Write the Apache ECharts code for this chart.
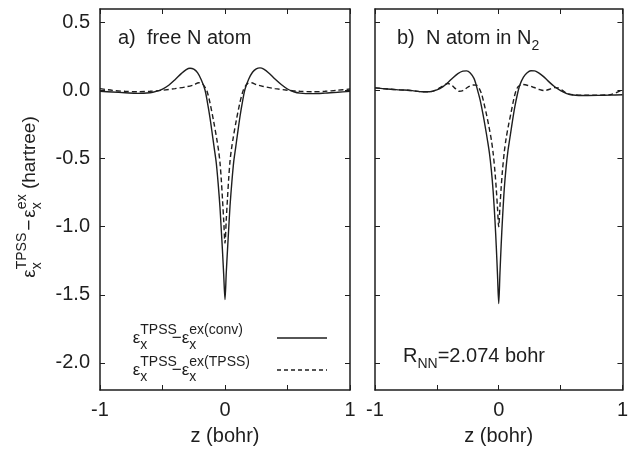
<!DOCTYPE html>
<html><head><meta charset="utf-8">
<script src="https://cdn.jsdelivr.net/npm/echarts@6/dist/echarts.min.js"></script>
<style>html,body{margin:0;padding:0;background:#fff}#c{width:631px;height:451px}</style>
</head><body><div id="c"></div>
<script>
const FONT = '"Liberation Sans", Arial, Helvetica, sans-serif';
const INK = '#1e1e1e';

// axis ticks: z in bohr, energy density difference in hartree
const xTicks = [-1, -0.5, 0, 0.5, 1];
const xLabels = [-1, 0, 1];
const yTicks = [0.5, 0, -0.5, -1, -1.5, -2];

// a) free N atom: TPSS minus conventional exact exchange
const zFreeConv = [-1.0,-0.9,-0.8,-0.7,-0.6,-0.55,-0.5,-0.45,-0.4,-0.35,-0.31,-0.28,-0.25,-0.22,-0.19,-0.16,-0.14,-0.12,-0.10,-0.085,-0.07,-0.055,-0.04,-0.03,-0.02,-0.01,0,
  0.01,0.02,0.03,0.04,0.055,0.07,0.085,0.10,0.12,0.14,0.16,0.19,0.22,0.25,0.28,0.31,0.35,0.40,0.45,0.50,0.55,0.60,0.70,0.80,0.90,1.0];
const eFreeConv = [-0.005,-0.010,-0.015,-0.020,-0.015,-0.005,0.012,0.040,0.080,0.125,0.155,0.165,0.158,0.132,0.080,0.005,-0.090,-0.200,-0.330,-0.430,-0.530,-0.680,-0.860,-1.020,-1.180,-1.360,-1.535,
  -1.340,-1.170,-1.010,-0.850,-0.670,-0.520,-0.420,-0.320,-0.190,-0.080,0.010,0.085,0.135,0.160,0.167,0.158,0.130,0.085,0.045,0.012,-0.008,-0.018,-0.022,-0.018,-0.012,-0.005];

// a) free N atom: TPSS minus exact exchange in the TPSS gauge
const zFreeTpss = [-1.0,-0.9,-0.8,-0.7,-0.6,-0.5,-0.4,-0.3,-0.25,-0.21,-0.18,-0.16,-0.145,-0.12,-0.09,-0.065,-0.05,-0.04,-0.03,-0.02,-0.01,0,
  0.01,0.02,0.03,0.04,0.05,0.065,0.09,0.12,0.145,0.16,0.18,0.21,0.25,0.3,0.4,0.5,0.6,0.7,0.8,0.9,1.0];
const eFreeTpss = [0.015,0.002,-0.005,-0.008,-0.005,0.003,0.015,0.030,0.042,0.058,0.050,0.025,0.000,-0.090,-0.230,-0.360,-0.450,-0.530,-0.650,-0.800,-0.960,-1.120,
  -0.950,-0.790,-0.640,-0.520,-0.440,-0.350,-0.220,-0.085,0.000,0.028,0.052,0.058,0.045,0.032,0.015,0.003,-0.005,-0.008,-0.005,0.003,0.012];

// b) N atom in N2: conventional gauge
const zMolConv = [-1.0,-0.9,-0.8,-0.7,-0.62,-0.56,-0.5,-0.45,-0.41,-0.37,-0.33,-0.29,-0.26,-0.23,-0.20,-0.185,-0.17,-0.15,-0.13,-0.11,-0.09,-0.075,-0.06,-0.045,-0.03,-0.02,-0.01,0,
  0.01,0.02,0.03,0.045,0.06,0.075,0.09,0.11,0.13,0.15,0.17,0.20,0.23,0.26,0.29,0.32,0.36,0.40,0.45,0.50,0.55,0.60,0.70,0.80,0.90,1.0];
const eMolConv = [0.020,0.012,0.006,0.000,-0.008,-0.008,0.006,0.030,0.060,0.095,0.125,0.143,0.145,0.130,0.090,0.050,0.000,-0.070,-0.160,-0.260,-0.370,-0.460,-0.580,-0.740,-0.960,-1.140,-1.350,-1.565,
  -1.340,-1.130,-0.950,-0.720,-0.560,-0.440,-0.350,-0.230,-0.120,-0.030,0.040,0.100,0.132,0.146,0.145,0.132,0.105,0.070,0.030,0.000,-0.022,-0.032,-0.036,-0.035,-0.033,-0.030];

// b) N atom in N2: TPSS gauge
const zMolTpss = [-1.0,-0.9,-0.8,-0.7,-0.62,-0.56,-0.5,-0.45,-0.41,-0.38,-0.35,-0.32,-0.29,-0.25,-0.21,-0.18,-0.16,-0.14,-0.12,-0.10,-0.08,-0.06,-0.045,-0.03,-0.02,-0.01,0,
  0.01,0.02,0.03,0.045,0.06,0.08,0.10,0.12,0.14,0.16,0.19,0.23,0.28,0.33,0.37,0.41,0.45,0.48,0.51,0.55,0.60,0.70,0.80,0.90,0.95,1.0];
const eMolTpss = [0.020,0.012,0.006,0.000,-0.008,-0.008,0.008,0.035,0.052,0.040,0.015,-0.005,0.000,0.025,0.042,0.040,0.020,-0.020,-0.090,-0.170,-0.260,-0.360,-0.460,-0.600,-0.720,-0.860,-1.000,
  -0.850,-0.710,-0.590,-0.450,-0.350,-0.250,-0.160,-0.070,0.000,0.032,0.045,0.040,0.025,0.008,0.000,0.010,0.022,0.020,0.005,-0.020,-0.030,-0.034,-0.033,-0.030,-0.015,0.008];

const pairs = (z, e) => z.map((v, i) => [v, e[i]]);

// ---- text helpers (stacked sub/superscripts) ----
const mctx = document.createElement('canvas').getContext('2d');
function textWidth(s, size) { mctx.font = size + 'px ' + FONT; return mctx.measureText(s).width; }
function txt(s, x, y, size) {
  return { type: 'text', x: x, y: y, silent: true,
    style: { text: s, font: size + 'px ' + FONT, fill: INK,
      textAlign: 'left', textVerticalAlign: 'middle', align: 'left', verticalAlign: 'middle' } };
}
// tokens: string = run at main size, number = extra horizontal space,
// object = stacked sub/superscript attached to the previous glyph
function mathText(tokens, o) {
  const kids = []; let cx = 0;
  tokens.forEach(tk => {
    if (typeof tk === 'number') { cx += tk; return; }
    if (typeof tk === 'string') {
      kids.push(txt(tk, cx, 0, o.size));
      cx += textWidth(tk, o.size);
      return;
    }
    let w = 0;
    if (tk.sub) { kids.push(txt(tk.sub, cx, o.subDy, o.small)); w = Math.max(w, textWidth(tk.sub, o.small)); }
    if (tk.sup) { kids.push(txt(tk.sup, cx, o.supDy, o.small)); w = Math.max(w, textWidth(tk.sup, o.small)); }
    cx += w;
  });
  return { kids: kids, width: cx };
}
function group(x, y, m, opts) {
  opts = opts || {};
  const off = opts.center ? -m.width / 2 : 0;
  return { type: 'group', x: x, y: y, rotation: opts.rotation || 0,
    children: m.kids.map(k => Object.assign({}, k, { x: k.x + off })) };
}

// ---- axes ----
const axisLineStyle = { color: INK, width: 1.5 };
function xAxis(gridIndex, position, labelled) {
  return {
    type: 'value', gridIndex: gridIndex, position: position, min: -1, max: 1,
    axisLine: { show: true, onZero: false, lineStyle: axisLineStyle },
    axisTick: { show: true, inside: true, length: 5, customValues: xTicks, lineStyle: { color: INK, width: 1 } },
    axisLabel: { show: labelled, customValues: xLabels, margin: 10, fontSize: 20, fontFamily: FONT, color: INK,
      formatter: v => String(v) },
    splitLine: { show: false },
    name: labelled ? 'z (bohr)' : '', nameLocation: 'middle', nameGap: 36,
    nameTextStyle: { fontSize: 20, fontFamily: FONT, color: INK }
  };
}
function yAxis(gridIndex, position, labelled) {
  return {
    type: 'value', gridIndex: gridIndex, position: position, min: -2.2, max: 0.6,
    axisLine: { show: true, onZero: false, lineStyle: axisLineStyle },
    axisTick: { show: true, inside: true, length: 5, customValues: yTicks, lineStyle: { color: INK, width: 1 } },
    axisLabel: { show: labelled, customValues: yTicks, margin: 10, fontSize: 20, fontFamily: FONT, color: INK,
      formatter: v => v.toFixed(1) },
    splitLine: { show: false }
  };
}

function curve(xi, data, dashed) {
  return { type: 'line', xAxisIndex: xi, yAxisIndex: xi, data: data, showSymbol: false, symbol: 'none',
    smooth: 0.3, clip: true, animation: false,
    lineStyle: { color: INK, width: 1.4, type: dashed ? [5, 3] : 'solid' } };
}

// ---- annotations ----
const yTitle = mathText(['ε', { sub: 'x', sup: 'TPSS' }, 2, '−', 2, 'ε', { sub: 'x', sup: 'ex' }, ' (hartree)'],
  { size: 19, small: 14, subDy: 7, supDy: -8 });
const legOpts = { size: 17, small: 14, subDy: 7, supDy: -8 };
const leg1 = mathText(['ε', { sub: 'x', sup: 'TPSS' }, -5, '−', 'ε', { sub: 'x', sup: 'ex(conv)' }], legOpts);
const leg2 = mathText(['ε', { sub: 'x', sup: 'TPSS' }, -5, '−', 'ε', { sub: 'x', sup: 'ex(TPSS)' }], legOpts);
const labB = mathText(['b)  N atom in N', { sub: '2' }], { size: 20, small: 14, subDy: 8, supDy: -8 });
const labR = mathText(['R', { sub: 'NN' }, '=2.074 bohr'], { size: 20, small: 14, subDy: 8, supDy: -8 });
const legX = 243 - leg1.width;

const chart = echarts.init(document.getElementById('c'), null, { renderer: 'canvas' });
chart.setOption({
  animation: false,
  backgroundColor: '#fff',
  grid: [
    { left: 100, top: 9, width: 250, height: 384 },
    { left: 375, top: 9, width: 253, height: 384 }
  ],
  xAxis: [xAxis(0, 'bottom', true), xAxis(0, 'top', false), xAxis(1, 'bottom', true), xAxis(1, 'top', false)],
  yAxis: [yAxis(0, 'left', true), yAxis(0, 'right', false), yAxis(1, 'left', false), yAxis(1, 'right', false)],
  series: [
    curve(0, pairs(zFreeConv, eFreeConv), false),
    curve(0, pairs(zFreeTpss, eFreeTpss), true),
    curve(2, pairs(zMolConv, eMolConv), false),
    curve(2, pairs(zMolTpss, eMolTpss), true)
  ],
  graphic: [
    group(30, 197, yTitle, { center: true, rotation: Math.PI / 2 }),
    txt('a)  free N atom', 118, 38, 20),
    group(397, 38, labB),
    group(403, 356, labR),
    group(legX, 338, leg1),
    group(legX, 370, leg2),
    { type: 'line', silent: true, shape: { x1: 277, y1: 338, x2: 327, y2: 338 }, style: { stroke: INK, lineWidth: 1.4 } },
    { type: 'line', silent: true, shape: { x1: 277, y1: 370, x2: 327, y2: 370 }, style: { stroke: INK, lineWidth: 1.4, lineDash: [4, 3] } }
  ]
});
</script></body></html>
